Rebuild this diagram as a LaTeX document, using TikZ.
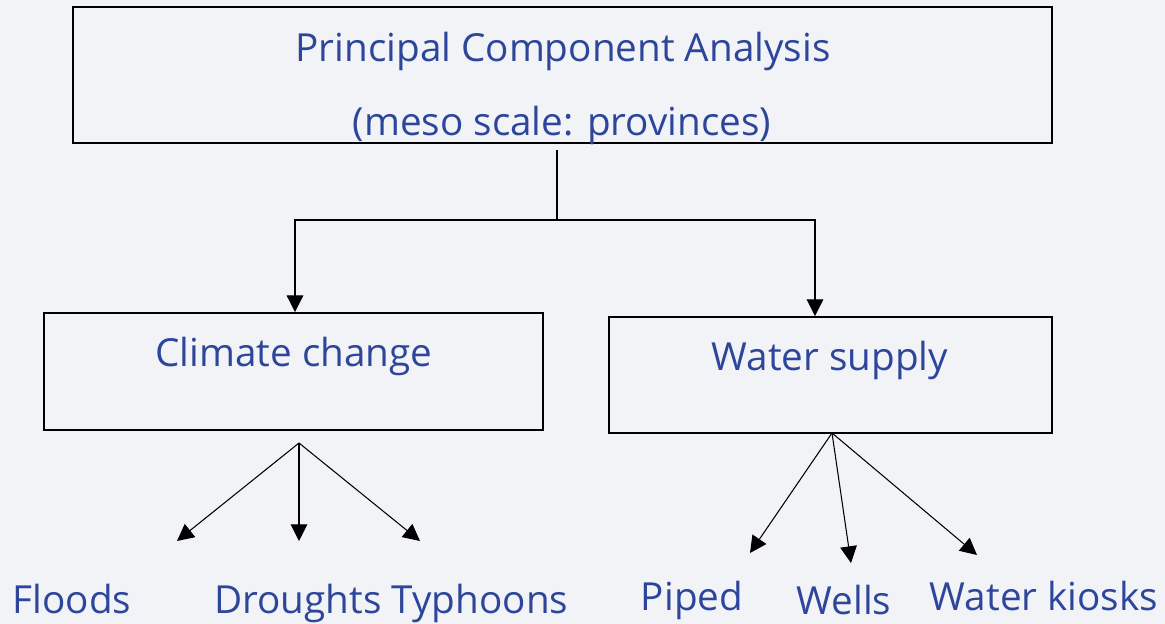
\documentclass[tikz,border=0pt]{standalone}
\usepackage{fontspec}
\setmainfont{Open Sans}
\usetikzlibrary{arrows.meta}
\definecolor{pcablue}{RGB}{45,70,155}
\definecolor{slidebg}{RGB}{242,243,246}

\begin{document}
\begin{tikzpicture}[
		x=0.02cm, y=-0.02cm,
		box/.style={rectangle, draw, line width=1.1pt, inner sep=0pt},
		txt/.style={text=pcablue, font=\fontsize{22}{26}\selectfont, anchor=base, inner sep=0pt},
		arr/.style={-{Triangle[length=9.5pt, width=9.5pt]}, line width=0.6pt}
	]
  \fill[slidebg] (0,0) rectangle (1165,624);
  \node (pca) [box, minimum width=19.58cm, minimum height=2.72cm] at (562.5,75) {};
  \node (climate) [box, minimum width=9.98cm, minimum height=2.34cm] at (293.5,371.5) {};
  \node (water) [box, minimum width=8.86cm, minimum height=2.32cm] at (830.5,375) {};
  \node (pca1) [txt] at (563,62) {Principal Component Analysis};
  \node (pca2) [txt] at (562,136) {(meso scale: provinces)};
  \node (climatetxt) [txt] at (294,367) {Climate change};
  \node (watertxt) [txt] at (830,371) {Water supply};
  \node (floods) [txt] at (72,613) {Floods};
  \node (droughts) [txt] at (298,613) {Droughts};
  \node (typhoons) [txt] at (480,613) {Typhoons};
  \node (piped) [txt] at (692,610) {Piped};
  \node (wells) [txt] at (844,614) {Wells};
  \node (kiosks) [txt] at (1044,610) {Water kiosks};
  \coordinate (stem) at (557,150);
  \coordinate (split) at (557,220);
  \coordinate (cfork) at (299,443);
  \coordinate (wfork) at (832,433);
  \coordinate (floodstip) at (177,541);
  \coordinate (droughtstip) at (299,541);
  \coordinate (typhoonstip) at (420,541);
  \coordinate (pipedtip) at (750,553);
  \coordinate (wellstip) at (851,563);
  \coordinate (kioskstip) at (977,555);
  \draw[line width=0.6pt] (stem) -- (split);
  \draw[arr] (split) -| ([xshift=0.03cm]climate.north);
  \draw[arr] (split) -| ([xshift=-0.31cm]water.north);
  \draw[arr] (cfork) -- (floodstip);
  \draw[arr] (cfork) -- (droughtstip);
  \draw[arr] (cfork) -- (typhoonstip);
  \draw[arr] (wfork) -- (pipedtip);
  \draw[arr] (wfork) -- (wellstip);
  \draw[arr] (wfork) -- (kioskstip);
\end{tikzpicture}
\end{document}
